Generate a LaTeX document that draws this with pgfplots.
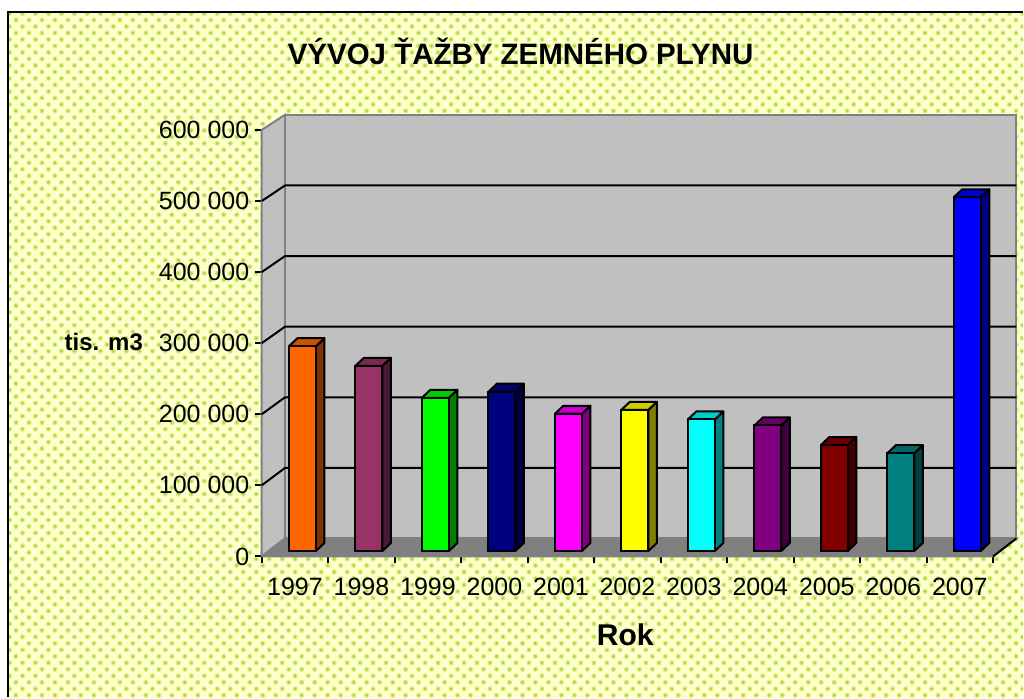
\documentclass[border=0pt]{standalone}
\usepackage{fontspec}
\setmainfont{Liberation Sans}
\usepackage{pgfplots}
\pgfplotsset{compat=1.18}
\usetikzlibrary{patterns}

% 1 reference pixel = 1pt; axis origin sits at pixel (262,557)
\definecolor{chartbg}{HTML}{FFFFCC}
\definecolor{dotcore}{HTML}{A6D82E}
\definecolor{dothalo}{HTML}{D4EE7E}
\definecolor{wall}{HTML}{C0C0C0}
\definecolor{floorc}{HTML}{808080}
\definecolor{c97}{HTML}{FF6600}
\definecolor{c98}{HTML}{993366}
\definecolor{c99}{HTML}{00FF00}
\definecolor{c00}{HTML}{000080}
\definecolor{c01}{HTML}{FF00FF}
\definecolor{c02}{HTML}{FFFF00}
\definecolor{c03}{HTML}{00FFFF}
\definecolor{c04}{HTML}{800080}
\definecolor{c05}{HTML}{800000}
\definecolor{c06}{HTML}{008080}
\definecolor{c07}{HTML}{0000FF}

\pgfdeclarepatterninherentlycolored{gdots}
  {\pgfqpoint{-1pt}{-1pt}}{\pgfqpoint{14pt}{14pt}}{\pgfqpoint{13pt}{13pt}}{
  \pgfsetfillcolor{chartbg}
  \pgfpathrectangle{\pgfqpoint{-1pt}{-1pt}}{\pgfqpoint{15pt}{15pt}}\pgfusepath{fill}
  \pgfsetfillcolor{dothalo}
  \pgfpathcircle{\pgfqpoint{3pt}{3pt}}{2.6pt}
  \pgfpathcircle{\pgfqpoint{9.5pt}{9.5pt}}{2.6pt}\pgfusepath{fill}
  \pgfsetfillcolor{dotcore}
  \pgfpathcircle{\pgfqpoint{3pt}{3pt}}{1.4pt}
  \pgfpathcircle{\pgfqpoint{9.5pt}{9.5pt}}{1.4pt}\pgfusepath{fill}
}

% \tdbar{cell centre}{value}{colour}
\newcommand{\tdbar}[3]{%
  \pgfmathsetmacro{\xl}{#1-6*0.015027}%
  \pgfmathsetmacro{\xr}{#1+21*0.015027}%
  \pgfmathsetmacro{\xb}{#1+29.5*0.015027}%
  \pgfmathsetmacro{\xm}{#1+2.5*0.015027}%
  \edef\yo{7728}%
  \edef\yt{\the\numexpr#2+7728\relax}%
  \edef\yob{\the\numexpr7728+11241\relax}%
  \edef\ytb{\the\numexpr#2+7728+11241\relax}%
  \edef\tmp{\noexpand\addplot[fill=#3!50!black,draw=black,line width=2pt,line join=round,forget plot]
    coordinates {(\xr,\yo) (\xb,\yob) (\xb,\ytb) (\xr,\yt) (\xr,\yo)};
    \noexpand\addplot[fill=#3!80!black,draw=black,line width=2pt,line join=round,forget plot]
    coordinates {(\xl,\yt) (\xm,\ytb) (\xb,\ytb) (\xr,\yt) (\xl,\yt)};}%
  \tmp
  \addplot[ybar,bar width=27pt,bar shift=7.5pt,yshift=5.5pt,fill=#3,draw=black,line width=2pt,forget plot]
    coordinates {(#1,#2)};
}

\begin{document}
\begin{tikzpicture}
\fill[white] (-262pt,-141pt) rectangle (762pt,557pt);
\fill[pattern=gdots] (-253.5pt,-141pt) rectangle (762pt,544.5pt);
\draw[black,line width=2pt] (-253.5pt,-141pt) -- (-253.5pt,544.5pt) -- (762pt,544.5pt);
\begin{axis}[
  scale only axis,
  width=732pt, height=427pt,
  xmin=0, xmax=11, ymin=0, ymax=600000,
  clip=false,
  axis x line*=bottom, axis y line*=left,
  axis line style={black,line width=2pt,-},
  tick style={black,line width=2pt},
  tick align=outside,
  major tick length=7pt,
  xtick={0,...,11},
  x tick label as interval,
  xticklabels={1997,1998,1999,2000,2001,2002,2003,2004,2005,2006,2007},
  ytick={0,100000,200000,300000,400000,500000,600000},
  scaled y ticks=false,
  tick label style={font=\fontsize{25}{25}\selectfont},
  y tick label style={xshift=-2pt, /pgf/number format/.cd, fixed, precision=0, assume math mode=true, 1000 sep={\ }},
  x tick label style={yshift=-11pt},
  title={\fontsize{29.5}{29.5}\selectfont\bfseries VÝVOJ ŤAŽBY ZEMNÉHO PLYNU},
  title style={at={(axis description cs:0.354,1.170)},anchor=center},
  xlabel={\fontsize{30}{30}\selectfont\bfseries Rok},
  xlabel style={at={(axis description cs:0.497,-0.183)},anchor=center},
  ylabel={\fontsize{24}{24}\selectfont\bfseries tis. m3},
  ylabel style={at={(axis description cs:-0.216,0.504)},anchor=center,rotate=-90},
]
% walls and floor, in data units
\addplot[fill=wall,draw=floorc,line width=2pt,forget plot] coordinates {(0,0) (0.35,25300) (0.35,621100) (0,600000) (0,0)};
\addplot[fill=wall,draw=floorc,line width=2pt,forget plot] coordinates {(0.35,25300) (0.35,621100) (11.35,621100) (11.35,25300) (0.35,25300)};
\addplot[fill=floorc,draw=floorc,line width=2pt,forget plot] coordinates {(0,0) (0.35,25300) (11.35,25300) (11,0) (0,0)};
% gridlines on the side wall and the back wall
\addplot[black,line width=2pt,forget plot] coordinates {(0,100000) (0.35,124600) (11.35,124600)};
\addplot[black,line width=2pt,forget plot] coordinates {(0,200000) (0.35,223900) (11.35,223900)};
\addplot[black,line width=2pt,forget plot] coordinates {(0,300000) (0.35,323200) (11.35,323200)};
\addplot[black,line width=2pt,forget plot] coordinates {(0,400000) (0.35,422500) (11.35,422500)};
\addplot[black,line width=2pt,forget plot] coordinates {(0,500000) (0.35,521800) (11.35,521800)};
\addplot[black,line width=2pt,forget plot] coordinates {(11,0) (11.35,25300)};
% bars
\tdbar{0.5}{288000}{c97}
\tdbar{1.5}{260500}{c98}
\tdbar{2.5}{215500}{c99}
\tdbar{3.5}{224000}{c00}
\tdbar{4.5}{193000}{c01}
\tdbar{5.5}{198500}{c02}
\tdbar{6.5}{185000}{c03}
\tdbar{7.5}{176500}{c04}
\tdbar{8.5}{149000}{c05}
\tdbar{9.5}{137500}{c06}
\tdbar{10.5}{497500}{c07}
\end{axis}
\path[use as bounding box] (-262pt,-141pt) rectangle (762pt,557pt);
\end{tikzpicture}
\end{document}
